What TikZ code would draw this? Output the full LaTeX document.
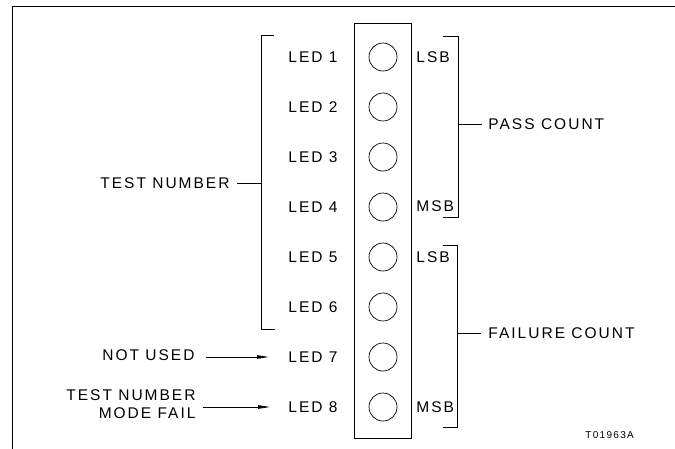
\documentclass[tikz,border=0pt]{standalone}
\usepackage{fontspec}
\setmainfont{Liberation Sans}[LetterSpace=13]
\usetikzlibrary{arrows.meta}
\begin{document}
\begin{tikzpicture}[x=1pt,y=-1pt,line width=0.9pt,
  lbl/.style={font=\fontsize{15.5}{18}\selectfont,inner sep=0pt},
  small/.style={font=\fontsize{10}{12}\selectfont,inner sep=0pt},
  led/.style={circle,draw,line width=0.7pt,minimum size=28pt,inner sep=0pt},
  brk/.style={line width=0.9pt},
  arr/.style={line width=0.9pt,-{Triangle[length=12pt,width=3.5pt]}}]
\useasboundingbox (0,0) rectangle (675,448);
% outer frame
\coordinate (fbl) at (12,470);
\coordinate (ftl) at (12,6);
\coordinate (ftr) at (700,6);
\draw[line width=1pt] (fbl) -- (ftl) -- (ftr);
% LED panel
\node[draw,minimum width=57pt,minimum height=415pt,inner sep=0pt] (panel) at (382.5,230.5) {};
\foreach \i in {1,...,8}{
  \node[led] (c\i) at (383,{57+50*(\i-1)}) {};
  \node[lbl,anchor=west] (l\i) at (288,{57+50*(\i-1)}) {LED \i};
}
\node[lbl,anchor=west] (lsb1) at (416,57) {LSB};
\node[lbl,anchor=west] (msb1) at (416,206) {MSB};
\node[lbl,anchor=west] (lsb2) at (416,257) {LSB};
\node[lbl,anchor=west] (msb2) at (416,407) {MSB};
% test number bracket
\coordinate (tb1) at (274,35);
\coordinate (tb2) at (261,35);
\coordinate (tb3) at (261,329);
\coordinate (tb4) at (275,329);
\coordinate (tbm) at (261,183);
\draw[brk] (tb1) -- (tb2) -- (tb3) -- (tb4);
\node[lbl,anchor=east] (tn) at (230,183) {TEST NUMBER};
\coordinate (tnt) at (237,183);
\draw[brk] (tbm) -- (tnt);
% pass count bracket
\coordinate (pb1) at (443,36);
\coordinate (pb2) at (458,36);
\coordinate (pb3) at (458,217);
\coordinate (pb4) at (443,217);
\coordinate (pbm) at (458,124);
\draw[brk] (pb1) -- (pb2) -- (pb3) -- (pb4);
\node[lbl,anchor=west] (pc) at (488,124) {PASS COUNT};
\coordinate (pct) at (482,124);
\draw[brk] (pbm) -- (pct);
% failure count bracket
\coordinate (fb1) at (443,245);
\coordinate (fb2) at (457,245);
\coordinate (fb3) at (457,427);
\coordinate (fb4) at (443,427);
\coordinate (fbm) at (457,333);
\draw[brk] (fb1) -- (fb2) -- (fb3) -- (fb4);
\node[lbl,anchor=west] (fc) at (488,333) {FAILURE COUNT};
\coordinate (fct) at (481,333);
\draw[brk] (fbm) -- (fct);
% not used
\node[lbl,anchor=east] (nu) at (195,355) {NOT USED};
\coordinate (nus) at (206,357);
\coordinate (nue) at (269,357);
\draw[arr] (nus) -- (nue);
% test number mode fail
\node[lbl,anchor=east,align=right] (mf) at (196,404) {TEST NUMBER\\MODE FAIL};
\coordinate (mfs) at (203,407);
\coordinate (mfe) at (270,407);
\draw[arr] (mfs) -- (mfe);
% figure id
\node[small,anchor=west] (fid) at (585,435) {T01963A};
\end{tikzpicture}
\end{document}
